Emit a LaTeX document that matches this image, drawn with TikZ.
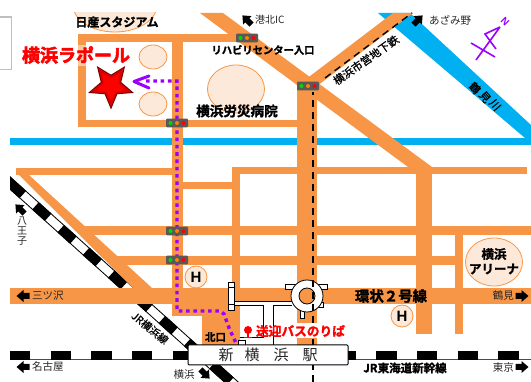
\documentclass[tikz,border=0pt]{standalone}
\usepackage{fontspec}
\setmainfont{Liberation Sans}
\newfontfamily\jp{Noto Sans CJK JP}
\newfontfamily\jpm[FakeBold=.7]{Noto Sans CJK JP}
\newfontfamily\jpb[FakeBold=1.5]{Noto Sans CJK JP Bold}
\newfontfamily\jph[FakeBold=3]{Noto Sans CJK JP Bold}
\definecolor{road}{HTML}{F79646}
\definecolor{river}{HTML}{00B0F0}
\definecolor{pale}{HTML}{FDE9D9}
\definecolor{route}{HTML}{9900FF}
\definecolor{lamp}{HTML}{595959}
\tikzset{
  rd/.style={fill=road,draw=none},
  hv/.style={fill=river,draw=none},
  pond/.style={fill=pale,draw=road,line width=.8pt},
  wroad/.style={fill=white,draw=black,line width=.7pt},
  lbl/.style={font=\jp\fontsize{#1}{#1}\selectfont,text=black!85,inner sep=0pt},
  mlbl/.style={font=\jpm\fontsize{#1}{#1}\selectfont,text=black,inner sep=0pt},
  blbl/.style={font=\jpb\fontsize{#1}{#1}\selectfont,text=black,inner sep=0pt},
  rlbl/.style={font=\jpb\fontsize{#1}{#1}\selectfont,text=red,inner sep=0pt},
  hmark/.style={circle,pond,minimum size=#1,inner sep=0pt,font=\bfseries\fontsize{15}{15}\selectfont},
  routeline/.style={draw=route,line width=3.4pt,dash pattern=on 3.6pt off 3.7pt},
  subway/.style={draw=black,line width=1.4pt,dash pattern=on 7pt off 5pt},
  pics/lights/.style={code={
    \fill[lamp,rounded corners=1pt] (-11,-4.3) rectangle (11,4.3);
    \fill[green!85!black] (-6.5,0) circle[radius=2];
    \fill[orange] (0,0) circle[radius=2];
    \fill[red] (6.5,0) circle[radius=2];
  }},
  pics/blockarrow/.style={code={
    \fill[black] (-6.5,0)--(0.5,-6)--(0.5,-3)--(6.5,-3)--(6.5,3)--(0.5,3)--(0.5,6)--cycle;
  }},
}
\begin{document}
\begin{tikzpicture}[x=1pt,y=-1pt]
\useasboundingbox (0,0) rectangle (531,382);
\fill[white] (0,0) rectangle (531,382);
\clip (0,0) rectangle (531,382);
% grey box
\draw[black!25,line width=1.3pt] (-5,17) rectangle (11.5,69.5);
% rivers
\fill[hv] (10,138) rectangle (531,145);
\fill[hv] (378,13)--(410,13)--(531,125)--(531,145)--(525,138)--cycle;
% railways
\begin{scope}
\clip (10,170) rectangle (531,382);
\coordinate (ra) at (5,178.5);
\coordinate (rb) at (238,388);
\draw[black,line width=10pt] (ra)--(rb);
\draw[white,line width=8pt] (ra)--(rb);
\draw[black,line width=10pt,dash pattern=on 24pt off 17pt on 17pt off 17pt on 17pt off 17pt on 17pt off 17pt on 17pt off 17pt on 17pt off 17pt on 17pt off 17pt on 17pt off 17pt] (ra)--(rb);
\end{scope}
\coordinate (sa) at (10,355.2);
\coordinate (sb) at (531,355.2);
\draw[black!70,line width=9pt] (sa)--(sb);
\draw[white,line width=7.6pt] (sa)--(sb);
\draw[black,line width=9pt,dash pattern=on 20.3pt off 20.4pt] (sa)--(sb);
% nissan stadium
\begin{scope}
\clip (60,13) rectangle (170,40);
\draw[pond] (115,5) ellipse[x radius=42,y radius=27];
\end{scope}
% orange roads
\fill[rd] (78,34) rectangle (240,42);
\fill[rd] (78,34) rectangle (86,127);
\fill[rd] (78,120) rectangle (297,127);
\fill[rd] (172,34) rectangle (183,316);
\fill[rd] (200,13)--(223,13)--(432,167)--(408,167)--(297,85)--cycle;
\fill[rd] (393,13)--(413,13)--(317,86)--(297,86)--cycle;
\fill[rd] (297,80) rectangle (317,345);
\fill[rd] (16,168) rectangle (172,175);
\fill[rd] (16,168)--(29,175)--(152,288)--(133,288)--(19,175)--(16,175)--cycle;
\fill[rd] (232,167) rectangle (527,174);
\fill[rd] (183,182) rectangle (232,189);
\fill[rd] (232,167) rectangle (240,345);
\fill[rd] (83,226) rectangle (531,235);
\fill[rd] (115,256) rectangle (463,265);
\fill[rd] (10,288) rectangle (531,304);
\fill[rd] (416,167) rectangle (432,334);
\fill[rd] (455,235) rectangle (463,334);
\fill[rd] (172,304) rectangle (240,316);
\fill[rd] (202,316) rectangle (240,345);
% ponds and marks
\draw[pond] (153,57) ellipse[x radius=14,y radius=12];
\draw[pond] (153,104) ellipse[x radius=14,y radius=12];
\draw[pond] (236,89) ellipse[x radius=28.5,y radius=24];
\draw[pond] (494,262) ellipse[x radius=28.5,y radius=24];
\node[hmark=22pt] (h1) at (196,277) {H};
\node[hmark=22pt] (h2) at (402,316) {H};
% station forecourt
\fill[white] (234,301) rectangle (300,305);
\fill[white] (264,305) rectangle (297,338);
\fill[white] (240,337) rectangle (273,345);
\draw[wroad] (228,282) rectangle (234,310);
\draw[black,line width=.6pt] (228,287)--(234,287) (228,304)--(234,304);
\draw[black,line width=.7pt] (234,301)--(292,301);
\draw[black,line width=.7pt] (263,305)--(263,337)--(240,337);
\draw[black,line width=.7pt] (273,345)--(273,305)--(292,305);
\draw[black,line width=.7pt] (234,305)--(263,305);
\draw[wroad] (238,340) rectangle (245,345);
\draw[wroad] (285,284) rectangle (327,289);
\draw[wroad] (300,308) rectangle (304,318);
\draw[wroad] (318,302) rectangle (323,307);
\draw[fill=white,draw=black,line width=.8pt] (307,296) circle[radius=16];
\draw[fill=road,draw=black,line width=.8pt] (307,296) circle[radius=8];
\fill[white] (297,323) rectangle (345,338);
% subway
\coordinate (ma) at (313,382);
\coordinate (mb) at (313,338);
\coordinate (mc) at (313,323);
\coordinate (md) at (313,92);
\coordinate (me) at (325,78);
\coordinate (mf) at (412,13);
\draw[subway] (ma)--(mb);
\draw[subway] (mc)--(md);
\draw[subway] (me)--(mf);
% visitor route
\coordinate (p0) at (177,81);
\coordinate (p1) at (177,311);
\coordinate (p2) at (220,311);
\coordinate (p3) at (235.5,342);
\coordinate (p4) at (146,81);
\draw[routeline] (p4)--(p0)--(p1)--(p2)--(224,314)--(229,328)--(p3);
\draw[route,line width=3pt,line cap=round,line join=round] (149,76)--(134,81.5)--(149,88);
% star
\begin{scope}[shift={(111,85.5)}]
\fill[black!55!red] (90:24)--(126:10.8)--(162:24)--(198:10.8)--(234:24)--(270:10.8)--(306:24)--(342:10.8)--(18:24)--(54:10.8)--cycle;
\fill[red!85!black] (90:21.5)--(126:9.6)--(162:21.5)--(198:9.6)--(234:21.5)--(270:9.6)--(306:21.5)--(342:9.6)--(18:21.5)--(54:9.6)--cycle;
\fill[red] (90:15)--(126:7.5)--(162:15)--(198:7.5)--(234:15)--(270:7.5)--(306:15)--(342:7.5)--(18:15)--(54:7.5)--cycle;
\end{scope}
% traffic lights
\pic at (247,38) {lights};
\pic at (177,123) {lights};
\pic at (177,231) {lights};
\pic at (177,260) {lights};
\pic at (308,86) {lights};
% station
\node[draw=black,fill=white,line width=1pt,rounded corners=1pt,minimum width=160pt,minimum height=20pt,inner sep=0pt] (st) at (268,355) {};
\node[lbl=15] (s1) at (226,355) {新};
\node[lbl=15] (s2) at (252,355) {横};
\node[lbl=15] (s3) at (281,355) {浜};
\node[lbl=15] (s4) at (310,355) {駅};
% arrows
\pic[rotate=-45] at (247,20) {blockarrow};
\pic[rotate=-135] at (418,20) {blockarrow};
\pic at (23,296) {blockarrow};
\pic at (23,367) {blockarrow};
\pic[rotate=180] at (522,296) {blockarrow};
\pic[rotate=180] at (522,367) {blockarrow};
\pic[rotate=-45] at (20,209) {blockarrow};
\pic[rotate=135] at (205,374) {blockarrow};
% pin
\fill[red] (248,330) circle[radius=4];
\draw[red,line width=1.5pt] (248,332)--(248,337) (244,337.5)--(252,337.5);
% labels
\node[blbl=12] (t1) at (117,22) {日産スタジアム};
\fill[road!50!white] (78,45) rectangle (86,66);
\node[rlbl=18,font=\jph\fontsize{18}{18}\selectfont] (t2) at (76,55) {横浜ラポール};
\node[blbl=10.3] (t3) at (263,50) {リハビリセンター入口};
\node[blbl=13.6] (t4) at (237,111) {横浜労災病院};
\node[lbl=10,anchor=west] (t5) at (255,20) {港北IC};
\node[lbl=10.5,anchor=west] (t6) at (429,20) {あざみ野};
\node[mlbl=11,rotate=35] (t7) at (366,60) {横浜市営地下鉄};
\node[mlbl=11,rotate=-50] (t8a) at (475,88) {鶴};
\node[mlbl=11,rotate=-50] (t8b) at (485,97) {見};
\node[mlbl=11,rotate=-50] (t8c) at (495,105) {川};
\node[blbl=12.5] (t9) at (494,254) {横浜};
\node[blbl=12.5] (t10) at (494,269) {アリーナ};
\node[blbl=14.4] (t11) at (391,296) {環状２号線};
\node[lbl=10.5,anchor=east] (t12) at (514,296) {鶴見};
\node[lbl=10.5,anchor=east] (t13) at (514,368) {東京};
\node[blbl=11.5] (t14) at (405,368) {JR東海道新幹線};
\node[lbl=10.5,anchor=west] (t15) at (32,296) {三ツ沢};
\node[lbl=10.5,anchor=west] (t16) at (32,367) {名古屋};
\node[lbl=10] (t17a) at (22,221) {八};
\node[lbl=10] (t17b) at (22,231) {王};
\node[lbl=10] (t17c) at (22,241) {子};
\node[mlbl=10.5,rotate=-39] (t18) at (150,328) {JR横浜線};
\node[lbl=10.5] (t19) at (184,375) {横浜};
\node[blbl=10.5] (t20) at (215.5,337) {北口};
\node[rlbl=12.7] (t21) at (300.5,331) {送迎バスのりば};
% compass
\draw[route,line width=1.6pt] (500,27)--(476,60) (500,27)--(485,34)--(496,49) (471,43)--(495,57);
\node[text=route,rotate=-45,inner sep=0pt,font=\bfseries\fontsize{10}{10}\selectfont] (north) at (505,21.5) {N};
\end{tikzpicture}
\end{document}
